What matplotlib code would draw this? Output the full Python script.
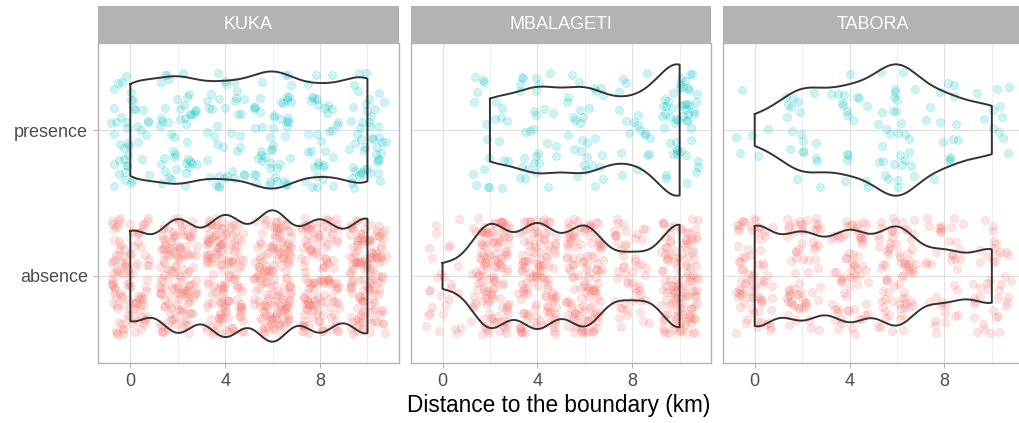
import numpy as np
import matplotlib.pyplot as plt

plt.rcParams['font.family'] = ['Liberation Sans', 'DejaVu Sans']

# Distance classes (km) and number of records in each class, per site and status
distance_km = [0, 2, 4, 6, 8, 10]
sites = ["KUKA", "MBALAGETI", "TABORA"]
statuses = ["absence", "presence"]

kuka_absence = [107, 132, 141, 153, 130, 137]
kuka_presence = [41, 44, 37, 50, 34, 48]
mbalageti_absence = [28, 126, 125, 121, 52, 128]
mbalageti_presence = [0, 22, 29, 29, 19, 51]
tabora_absence = [77, 64, 67, 74, 37, 41]
tabora_presence = [6, 19, 18, 31, 15, 11]

counts = {
    ("KUKA", "absence"): kuka_absence,
    ("KUKA", "presence"): kuka_presence,
    ("MBALAGETI", "absence"): mbalageti_absence,
    ("MBALAGETI", "presence"): mbalageti_presence,
    ("TABORA", "absence"): tabora_absence,
    ("TABORA", "presence"): tabora_presence,
}
colors = {"absence": "#F8766D", "presence": "#00BFC4"}


def bw_nrd0(x):
    sd = np.std(x, ddof=1)
    q75, q25 = np.percentile(x, [75, 25])
    return 0.9 * min(sd, (q75 - q25) / 1.34) * len(x) ** -0.2


def kde(x, grid):
    bw = bw_nrd0(x)
    z = (grid[:, None] - x[None, :]) / bw
    return np.exp(-0.5 * z ** 2).sum(axis=1) / (len(x) * bw * np.sqrt(2 * np.pi))


# jitter offsets for the strip plot (fixed seed so the layout is repeatable)
rng = np.random.default_rng(11)

W, H = 1019, 423
fig = plt.figure(figsize=(W / 100, H / 100), dpi=100)

panel_left = [98.3, 410.5, 722.7]
panel_w = 300.2
top, bottom, strip_top = 43, 363.3, 6
grey70 = "#B3B3B3"

for p, (site, left) in enumerate(zip(sites, panel_left)):
    ax = fig.add_axes([left / W, 1 - bottom / H, panel_w / W, (bottom - top) / H])

    data = {}
    for status in statuses:
        x = np.repeat(distance_km, counts[(site, status)]).astype(float)
        grid = np.linspace(x.min(), x.max(), 512)
        data[status] = (x, grid, kde(x, grid))
    dmax = max(d.max() for _, _, d in data.values())

    for k, status in enumerate(statuses):
        y0 = k + 1
        x, grid, d = data[status]
        dx = rng.uniform(-0.8, 0.8, len(x))
        dy = rng.uniform(-0.4, 0.4, len(x))
        ax.scatter(x + dx, y0 + dy, s=36, color=colors[status], alpha=0.2,
                   linewidths=0.5, edgecolors=colors[status], zorder=2)
        hw = 0.45 * d / dmax
        ax.plot(np.r_[grid, grid[::-1], grid[0]],
                np.r_[y0 + hw, y0 - hw[::-1], y0 + hw[0]],
                color="#333333", lw=1.4, zorder=3)

    ax.set_xlim(-1.35, 11.31)
    ax.set_ylim(0.402, 2.596)
    ax.set_xticks([0, 4, 8])
    ax.set_xticks([2, 6, 10], minor=True)
    ax.set_yticks([1, 2])
    ax.set_yticklabels(statuses)
    ax.grid(which="major", color="#DEDEDE", lw=0.7, zorder=0)
    ax.grid(which="minor", axis="x", color="#EBEBEB", lw=0.6, zorder=0)
    ax.set_axisbelow(True)
    ax.tick_params(which="major", length=3.3, width=0.7, color=grey70,
                   labelcolor="#4D4D4D", labelsize=13, pad=4)
    ax.tick_params(which="minor", length=0)
    if p > 0:
        ax.tick_params(axis="y", left=False, labelleft=False)
    for s in ax.spines.values():
        s.set_color(grey70)
        s.set_linewidth(1.0)

    strip = fig.add_axes([left / W, 1 - top / H, panel_w / W, (top - strip_top) / H])
    strip.set_facecolor(grey70)
    strip.set_xticks([])
    strip.set_yticks([])
    for s in strip.spines.values():
        s.set_visible(False)
    strip.text(0.5, 0.5, site, ha="center", va="center", color="white",
               fontsize=13, transform=strip.transAxes)

fig.text(558.5 / W, 1 - 405 / H, "Distance to the boundary (km)",
         ha="center", va="center", fontsize=16.3)

fig.savefig("out.png", dpi=100)
